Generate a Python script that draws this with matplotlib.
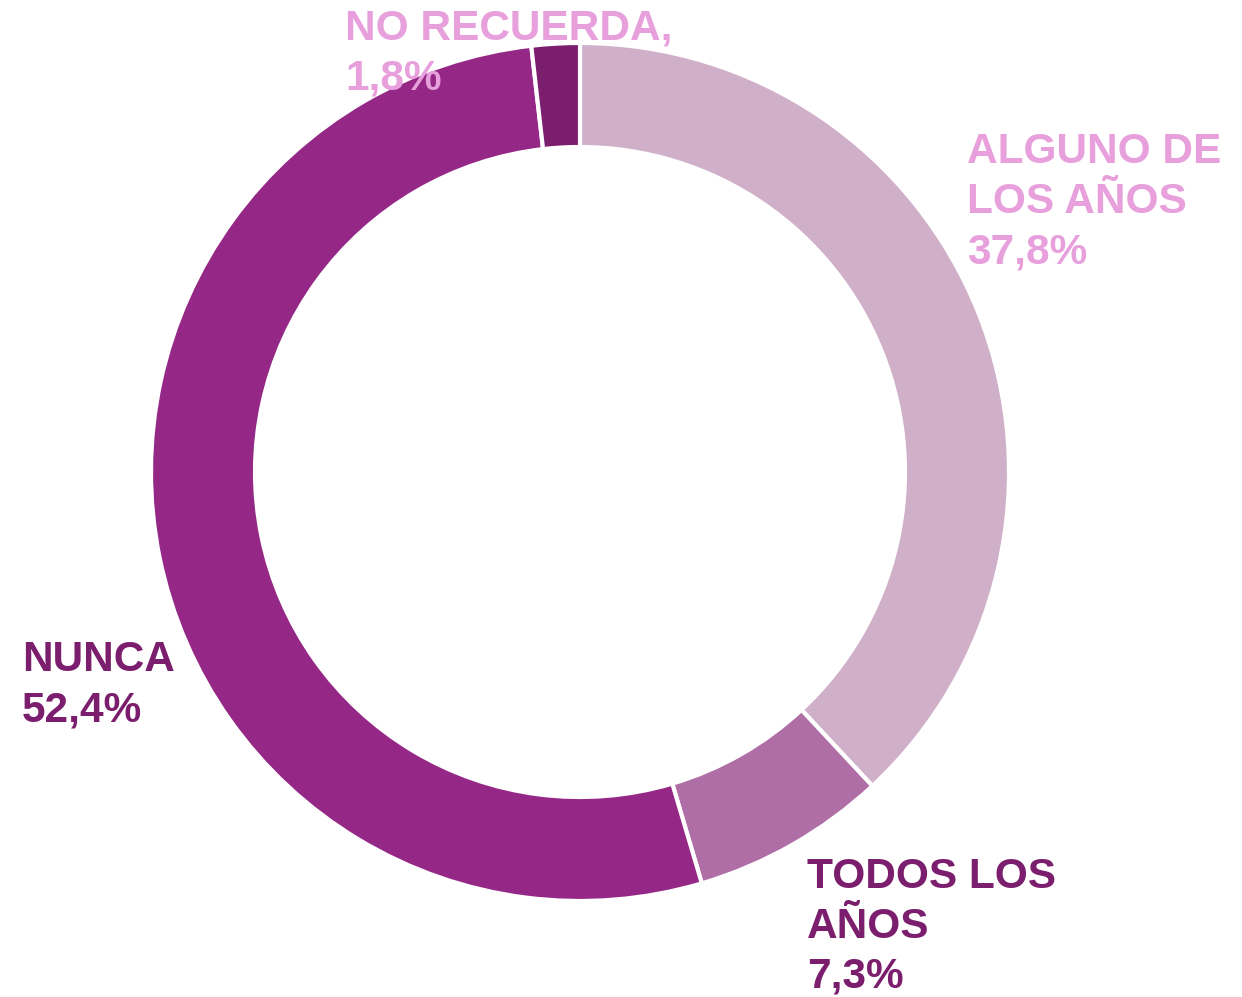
import matplotlib
matplotlib.use("Agg")
import matplotlib.pyplot as plt

# datos
categorias = ["ALGUNO DE LOS AÑOS", "TODOS LOS AÑOS", "NUNCA", "NO RECUERDA"]
valores = [37.8, 7.3, 52.4, 1.8]
colores = ["#D0AFC9", "#AF6FA6", "#952886", "#7B1E6E"]
etiquetas = [["ALGUNO DE", "LOS AÑOS", "37,8%"],
             ["TODOS LOS", "AÑOS", "7,3%"],
             ["NUNCA", "52,4%"],
             ["NO RECUERDA,", "1,8%"]]
colores_texto = ["#E8A0DD", "#7B1E6E", "#7B1E6E", "#E8A0DD"]

W, H = 1242, 997
fig = plt.figure(figsize=(W / 100, H / 100), dpi=100)
ax = fig.add_axes([0, 0, 1, 1])
ax.axis("off")

ax.pie(valores, colors=colores, startangle=90, counterclock=False,
       center=(580, H - 472), radius=429,
       wedgeprops=dict(width=104, edgecolor="white", linewidth=3))
ax.set_xlim(0, W)
ax.set_ylim(0, H)
ax.set_aspect("equal")

# posiciones de las etiquetas (x izquierda, linea base de la primera fila)
pos = [(967, 163), (807, 888), (22, 671), (345, 40)]
paso = 50
for lineas, c, (x, y) in zip(etiquetas, colores_texto, pos):
    for i, linea in enumerate(lineas):
        ax.text(x, H - (y + i * paso), linea, color=c, fontsize=30.5,
                fontweight="bold", family="Liberation Sans",
                ha="left", va="baseline", zorder=5)

fig.savefig("out.png", dpi=100)
